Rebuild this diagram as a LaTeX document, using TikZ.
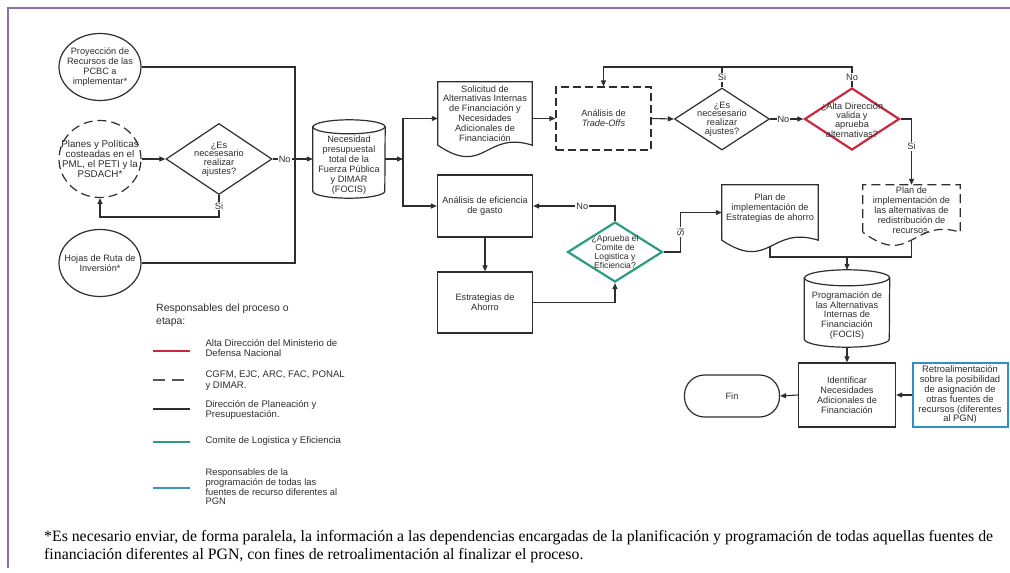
\documentclass[tikz,border=0pt]{standalone}
\usepackage{fontspec}
\setmainfont{Liberation Serif}
\newfontfamily\diagfont{Liberation Sans}
\usetikzlibrary{shapes.geometric,arrows.meta,calc}
\pgfdeclarelayer{links}
\pgfsetlayers{links,main}

\definecolor{ink}{HTML}{2E2E2E}
\definecolor{altared}{HTML}{C9283E}
\definecolor{comgreen}{HTML}{2E9C80}
\definecolor{retblue}{HTML}{2F8FCD}
\definecolor{legblue}{HTML}{3B94B4}
\definecolor{framepurple}{HTML}{8A6CB0}
\definecolor{dashgray}{HTML}{555555}

% document shape: straight top and sides, wavy bottom
\newcommand{\docout}[5][]{%
  \draw[box, fill=white, #1] (#2.south west) -- (#2.north west) -- (#2.north east) -- (#2.south east)
    .. controls +(-#3,-#5) and +(#3,#4) .. (#2.south west) -- cycle;}
% database cylinder drawn on a placeholder rectangle
\newcommand{\cylout}[3]{%
  \draw[box, fill=white] ([yshift=-#3pt]#1.north west) -- ([yshift=#3pt]#1.south west)
    arc[start angle=180, end angle=360, x radius=#2pt, y radius=#3pt]
    -- ([yshift=-#3pt]#1.north east)
    arc[start angle=0, end angle=180, x radius=#2pt, y radius=#3pt] -- cycle;
  \draw[box] ([yshift=-#3pt]#1.north west)
    arc[start angle=180, end angle=360, x radius=#2pt, y radius=#3pt];}

\begin{document}
\begin{tikzpicture}[x=1pt, y=-1pt,
  every node/.style={font=\diagfont\fontsize{9.2}{9.9}\selectfont, text=ink, align=center},
  box/.style={draw=ink, line width=1.2pt},
  hold/.style={rectangle, inner sep=0pt},
  txt/.style={inner sep=0pt},
  ell/.style={ellipse, box, fill=white, minimum width=82pt, minimum height=67pt, inner sep=0pt},
  dia/.style={diamond, box, fill=white, minimum width=95pt, minimum height=62pt, inner sep=0pt},
  rect/.style={rectangle, box, fill=white, minimum width=95pt, minimum height=62pt, inner sep=0pt},
  dashline/.style={dash pattern=on 8pt off 4pt},
  line/.style={draw=ink, line width=1.1pt},
  link/.style={line, -{Triangle[length=6pt,width=5pt]}},
  lab/.style={fill=white, inner sep=1pt},
  legt/.style={anchor=west, align=left, font=\diagfont\fontsize{9.6}{10.8}\selectfont},
  legline/.style={line width=2.4pt}
]
\useasboundingbox (0,0) rectangle (1010,573);

% outer frame
\draw[framepurple, line width=1.6pt] (8,568) -- (8,8) -- (1010,8);

% helper coordinates for the routing
\coordinate (bus) at (295,0);
\coordinate (loop1) at (0,217);
\coordinate (split) at (403,159);
\coordinate (top) at (0,67);
\coordinate (join) at (0,257);

% ---------- inputs ----------
\node[ell] (proy) at (100,67) {};
\node[txt] (proy-t) at (proy) {Proyección de\\Recursos de las\\PCBC a\\implementar*};
\node[ell, dash pattern=on 9pt off 5pt, minimum height=77pt] (planes) at (100,159) {};
\node[txt, font=\diagfont\fontsize{9.8}{10}\selectfont] (planes-t) at (planes) {Planes y Políticas\\costeadas en el\\PML, el PETI y la\\PSDACH*};
\node[ell] (hojas) at (100,263) {};
\node[txt] (hojas-t) at (hojas) {Hojas de Ruta de\\Inversión*};

\node[dia, minimum width=106pt, minimum height=71pt] (d1) at (219,159) {};
\node[txt, font=\diagfont\fontsize{9.2}{8.8}\selectfont] (d1-t) at (d1) {¿Es\\necesesario\\realizar\\ajustes?};

% ---------- budget need ----------
\node[hold, minimum width=72pt, minimum height=78pt] (nec) at (349,159) {};
\cylout{nec}{36}{7}
\node[txt] (nec-t) at ([yshift=-6pt]nec) {Necesidad\\presupuestal\\total de la\\Fuerza Pública\\y DIMAR\\(FOCIS)};

% ---------- middle column ----------
\node[hold, minimum width=94pt, minimum height=63pt] (sol) at (485,113.5) {};
\docout{sol}{47}{32}{15}
\node[txt] (sol-t) at (sol) {Solicitud de\\Alternativas Internas\\de Financiación y\\Necesidades\\Adicionales de\\Financiación};

\node[rect] (efic) at (485,206) {};
\node[txt] (efic-t) at (efic) {Análisis de eficiencia\\de gasto};
\node[rect, minimum height=61pt] (estr) at (485,302.5) {};
\node[txt] (estr-t) at (estr) {Estrategias de\\Ahorro};

% ---------- trade-offs loop ----------
\node[rect, dashline, minimum height=63pt] (trade) at (603.5,118.5) {};
\node[txt] (trade-t) at (trade) {Análisis de\\\textit{Trade-Offs}};
\node[dia] (d2) at (722,119) {};
\node[txt, font=\diagfont\fontsize{9.2}{8.8}\selectfont] (d2-t) at (d2) {¿Es\\necesesario\\realizar\\ajustes?};
\node[dia, draw=altared, line width=2.2pt] (dalta) at (852,119) {};
\node[txt, font=\diagfont\fontsize{9.2}{7}\selectfont] (dalta-t) at ([yshift=-1pt]dalta) {¿Alta Dirección\\valida y\\aprueba\\alternativas?};

\node[hold, minimum width=97pt, minimum height=47pt] (planred) at (911.5,208.5) {};
\docout[dash pattern=on 9pt off 5pt]{planred}{48.5}{36}{15}
\node[txt] (planred-t) at ([yshift=-2pt]planred) {Plan de\\implementación de\\las alternativas de\\redistribución de\\recursos.};

% ---------- savings committee ----------
\node[dia, draw=comgreen, line width=2.2pt, minimum height=60pt] (dcom) at (615,252) {};
\node[txt, font=\diagfont\fontsize{8.6}{9}\selectfont] (dcom-t) at (dcom) {¿Aprueba el\\Comite de\\Logistica y\\Eficiencia?};

\node[hold, minimum width=96pt, minimum height=55pt] (planest) at (770,212.5) {};
\docout{planest}{48}{32}{15}
\node[txt] (planest-t) at ([yshift=4pt]planest) {Plan de\\implementación de\\Estrategias de ahorro};

% ---------- programming and closing ----------
\node[hold, minimum width=85pt, minimum height=77pt] (prog) at (847,308.5) {};
\cylout{prog}{42.5}{8}
\node[txt] (prog-t) at ([yshift=-7pt]prog) {Programación de\\las Alternativas\\Internas de\\Financiación\\(FOCIS)};

\node[rect, minimum width=97pt, minimum height=64pt] (ident) at (847,395) {};
\node[txt] (ident-t) at (ident) {Identificar\\Necesidades\\Adicionales de\\Financiación};

\node[rect, rounded corners=20pt, minimum height=42pt] (fin) at (732,396) {};
\node[txt] (fin-t) at (fin) {Fin};

\node[rect, draw=retblue, line width=2pt, minimum height=64pt] (retro) at (960,395) {};
\node[txt, font=\diagfont\fontsize{9.4}{9.8}\selectfont] (retro-t) at (retro) {Retroalimentación\\sobre la posibilidad\\de asignación de\\otras fuentes de\\recursos (diferentes\\al PGN)};

% ---------- connectors ----------
\begin{pgfonlayer}{links}
  \draw[line] (proy.east) -| (bus |- hojas.east) -- (hojas.east);
  \draw[link] (planes.east) -- (d1.west);
  \draw[link] (d1.east) -- node[lab, pos=0.3] {No} (nec.west);
  \draw[link] (d1.south) -- node[lab] {Si} (d1.south |- loop1) -| (planes.south);

  \draw[link] (nec.east) -- (split);
  \draw[link] (split) |- (sol.west |- trade);
  \draw[link] (split) |- (efic.west);

  \draw[link] (sol.east |- trade) -- (trade.west);
  \draw[link] (trade.east) -- (d2.west);
  \draw[link] (d2.east) -- node[lab, pos=0.4] {No} (dalta.west);
  \draw[link] (d2.north) -- node[lab] {Si} (d2.north |- top) -| (trade.north);
  \draw[line] (dalta.north) -- node[lab] {No} (dalta.north |- top) -- (d2.north |- top);
  \draw[link] (dalta.east) -| node[lab, pos=0.71] {Si} (planred.north);

  \draw[link] (efic.south) -- (estr.north);
  \draw[link] (estr.east) -| (dcom.south);
  \draw[link] (dcom.north) |- node[lab, pos=0.7] {No} (efic.east);
  \draw[link] (dcom.east) -- ++(17,0) |- node[lab, pos=0.25, rotate=90] {Si} (planest.west);

  \draw[line] (planest.south) -- (planest.south |- join) -- (planred.south |- join) -- (planred.south);
  \draw[link] (prog.north |- join) -- (prog.north);
  \draw[link] (prog.south) -- (ident.north);
  \draw[link] (ident.west) -- (fin.east);
  \draw[link] (retro.west) -- (ident.east);
\end{pgfonlayer}

% ---------- legend ----------
\node[anchor=north west, align=left, inner sep=0pt, font=\diagfont\fontsize{10.5}{13}\selectfont] (leg-h) at (156,304) {Responsables del proceso o\\etapa:};
\draw[legline, altared] (153,351) -- (190,351);
\node[legt] (leg-1) at (202,348) {Alta Dirección del Ministerio de\\Defensa Nacional};
\draw[legline, dashgray, dash pattern=on 12pt off 7pt] (153,380) -- (190,380);
\node[legt] (leg-2) at (202,381) {CGFM, EJC, ARC, FAC, PONAL\\y DIMAR.};
\draw[legline, ink] (153,409) -- (190,409);
\node[legt] (leg-3) at (202,410) {Dirección de Planeación y\\Presupuestación.};
\draw[legline, comgreen] (153,442) -- (190,442);
\node[legt] (leg-4) at (202,441) {Comite de Logistica y Eficiencia};
\draw[legline, legblue] (153,488) -- (190,488);
\node[legt, font=\diagfont\fontsize{9.4}{9.6}\selectfont] (leg-5) at (202,487) {Responsables de la\\programación de todas las\\fuentes de recurso diferentes al\\PGN};

% ---------- footnote ----------
\node[anchor=north west, align=left, inner sep=0pt, text=black, font=\rmfamily\fontsize{15.8}{18}\selectfont] (nota) at (44,530)
  {*Es necesario enviar, de forma paralela, la información a las dependencias encargadas de la planificación y programación de todas aquellas fuentes de\\
   financiación diferentes al PGN, con fines de retroalimentación al finalizar el proceso.};
\end{tikzpicture}
\end{document}
